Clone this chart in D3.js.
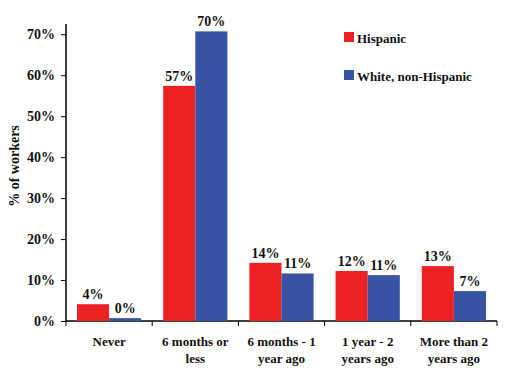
<!DOCTYPE html>
<meta charset="utf-8">
<script src="https://d3js.org/d3.v7.min.js"></script>
<style>
body { margin: 0; background: #fff; }
svg text { font-family: "Liberation Serif", "Times New Roman", serif !important; font-weight: bold; fill: #111; }
</style>
<div id="chart"></div>
<script>
// data
var categories = [["Never"], ["6 months or", "less"], ["6 months - 1", "year ago"], ["1 year - 2", "years ago"], ["More than 2", "years ago"]];
var hispanic = [4.1, 57.4, 14.2, 12.2, 13.4];
var white = [0.7, 70.7, 11.6, 11.2, 7.3];
var hispanicLabels = ["4%", "57%", "14%", "12%", "13%"];
var whiteLabels = ["0%", "70%", "11%", "11%", "7%"];
var seriesNames = ["Hispanic", "White, non-Hispanic"];
var colors = ["#ED2024", "#3953A4"];
var yTicks = [0, 10, 20, 30, 40, 50, 60, 70];

var W = 505, H = 374;
var margin = {top: 24, right: 8, bottom: 53, left: 66};
var width = W - margin.left - margin.right,
    height = H - margin.top - margin.bottom;

var svg = d3.select("#chart").append("svg")
    .attr("width", W).attr("height", H)
  .append("g")
    .attr("transform", "translate(" + margin.left + "," + margin.top + ")");

var x = d3.scaleBand()
  .domain(d3.range(categories.length))
  .range([0, width])
  .paddingInner(0).paddingOuter(0);

var inner = d3.scaleBand()
  .domain([0, 1])
  .range([11, x.bandwidth() - 11]);

var y = d3.scaleLinear()
  .domain([0, 72.5])
  .range([height, 0]);

// y axis
var yAxis = svg.append("g")
  .call(d3.axisLeft(y).tickValues(yTicks).tickSize(5).tickPadding(6)
    .tickFormat(function(d) { return d + "%"; }));
yAxis.attr("font-family", null).attr("font-size", null);
yAxis.select(".domain").attr("d", "M0," + y(72.5) + "V" + height).attr("stroke", "#000").attr("stroke-width", 1.5);
yAxis.selectAll(".tick line").attr("stroke", "#000");
yAxis.selectAll("text").style("font-size", "14px");

// x axis line and boundary ticks
var xAxis = svg.append("g").attr("transform", "translate(0," + height + ")");
xAxis.append("line").attr("x1", 0).attr("x2", width).attr("stroke", "#000").attr("stroke-width", 1.5);
xAxis.selectAll(".bt")
  .data(d3.range(categories.length + 1))
  .enter().append("line")
    .attr("x1", function(d) { return d * x.bandwidth(); })
    .attr("x2", function(d) { return d * x.bandwidth(); })
    .attr("y1", 0).attr("y2", 5)
    .attr("stroke", "#000");

xAxis.selectAll(".cat")
  .data(categories)
  .enter().append("text")
    .attr("text-anchor", "middle")
    .style("font-size", "13px")
    .attr("transform", function(d, i) { return "translate(" + (x(i) + x.bandwidth() / 2) + ",0)"; })
    .each(function(d) {
      var t = d3.select(this);
      d.forEach(function(line, j) {
        t.append("tspan").attr("x", 0).attr("y", 25 + j * 17).text(line);
      });
    });

// bars
var series = [hispanic, white];
var labels = [hispanicLabels, whiteLabels];
series.forEach(function(vals, s) {
  svg.selectAll(".bar" + s)
    .data(vals)
    .enter().append("rect")
      .attr("x", function(d, i) { return x(i) + inner(s); })
      .attr("y", function(d) { return y(d); })
      .attr("width", inner.bandwidth())
      .attr("height", function(d) { return height - y(d); })
      .attr("fill", colors[s]);

  svg.selectAll(".lab" + s)
    .data(vals)
    .enter().append("text")
      .attr("x", function(d, i) { return x(i) + inner(s) + inner.bandwidth() / 2; })
      .attr("y", function(d) { return y(d) - 5; })
      .attr("text-anchor", "middle")
      .style("font-size", "14px")
      .text(function(d, i) { return labels[s][i]; });
});

// y label
svg.append("text")
  .attr("transform", "translate(" + (-47) + "," + 142 + ") rotate(-90)")
  .attr("text-anchor", "middle")
  .style("font-size", "14px")
  .text("% of workers");

// legend
var legend = svg.selectAll(".legend")
  .data(seriesNames)
  .enter().append("g")
    .attr("transform", function(d, i) { return "translate(" + (344 - margin.left) + "," + (32 - margin.top + i * 38) + ")"; });
legend.append("rect").attr("width", 10).attr("height", 10)
  .attr("fill", function(d, i) { return colors[i]; });
legend.append("text").attr("x", 13).attr("y", 11)
  .style("font-size", "13px")
  .text(function(d) { return d; });
</script>
